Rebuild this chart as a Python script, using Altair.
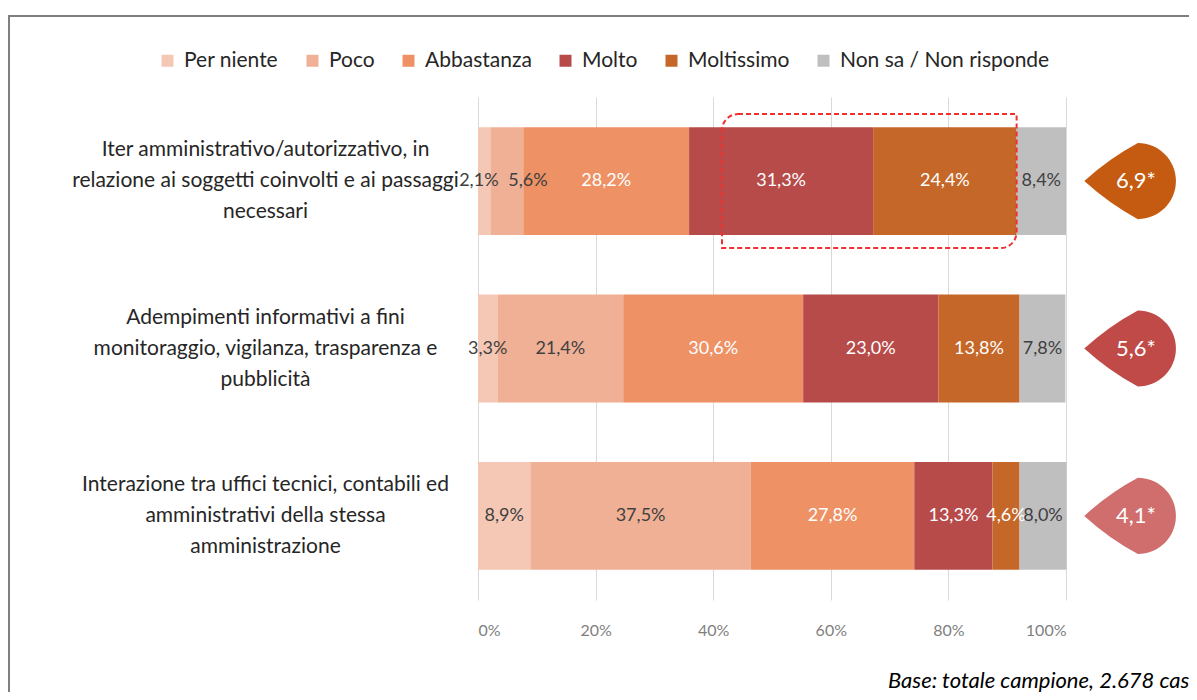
import altair as alt
import pandas as pd

# ---- data ----
categories = [
    "Iter amministrativo/autorizzativo, in|relazione ai soggetti coinvolti e ai passaggi|necessari",
    "Adempimenti informativi a fini|monitoraggio, vigilanza, trasparenza e|pubblicità",
    "Interazione tra uffici tecnici, contabili ed|amministrativi della stessa|amministrazione",
]
levels = ["Per niente", "Poco", "Abbastanza", "Molto", "Moltissimo", "Non sa / Non risponde"]
level_colors = ["#F5C8B6", "#F0B096", "#EE9164", "#B64B4A", "#C6672A", "#BFBFBF"]
row1 = [2.1, 5.6, 28.2, 31.3, 24.4, 8.4]
row2 = [3.3, 21.4, 30.6, 23.0, 13.8, 7.8]
row3 = [8.9, 37.5, 27.8, 13.3, 4.6, 8.0]
scores = [6.9, 5.6, 4.1]
score_colors = ["#C55A11", "#C04A48", "#D06E6E"]
highlight_start = 41.5
highlight_end = 91.6
note = "Base: totale campione, 2.678 casi"

rows = []
for cat, vals in zip(categories, [row1, row2, row3]):
    for i, (lev, v) in enumerate(zip(levels, vals)):
        rows.append({"category": cat, "level": lev, "order": i, "value": v})
df = pd.DataFrame(rows)

badges = pd.DataFrame({
    "category": categories,
    "score": scores,
    "col": score_colors,
    "label": [f"{s:.1f}".replace(".", ",") + "*" for s in scores],
    "pos": [110.9] * 3,
    "tpos": [111.9] * 3,
})
box = pd.DataFrame({"category": [categories[0]], "x0": [highlight_start], "x1": [highlight_end]})

FONT = "Lato"

x_scale = alt.Scale(domain=[0, 100], nice=False)
y_scale = alt.Scale(domain=categories, paddingInner=0.355, paddingOuter=0.18)

y_enc = alt.Y(
    "category:N",
    scale=y_scale,
    sort=categories,
    axis=alt.Axis(
        title=None, domain=False, ticks=False, grid=False,
        labelAlign="center", labelBaseline="middle", labelPadding=213,
        labelExpr="split(datum.label, '|')", labelLimit=0, labelOffset=-31,
        labelFontSize=21, labelLineHeight=31, labelColor="#262626", labelFont=FONT,
    ),
)

base = alt.Chart(df).transform_stack(
    stack="value", groupby=["category"], sort=[alt.SortField("order")], as_=["x0", "x1"]
).transform_calculate(
    mid="(datum.x0 + datum.x1) / 2 + (datum.level == 'Poco' && datum.value < 6 ? 3.6 : (datum.level == 'Per niente' && datum.value < 3 ? -0.9 : 0))",
    lab="replace(format(datum.value, '.1f'), '.', ',') + '%'",
)

bars = base.mark_bar().encode(
    x=alt.X(
        "x0:Q", scale=x_scale,
        axis=alt.Axis(
            title=None, values=[0, 20, 40, 60, 80, 100], labelExpr="datum.value + '%'",
            domain=False, ticks=False, grid=True, gridColor="#D9D9D9",
            labelColor="#7F7F7F", labelFontSize=16, labelPadding=22, labelFont=FONT,
        ),
    ),
    x2="x1:Q",
    y=y_enc,
    color=alt.Color(
        "level:N",
        scale=alt.Scale(domain=levels, range=level_colors),
        legend=alt.Legend(
            title=None, orient="none", direction="horizontal", legendX=-321, legendY=-47,
            symbolType="square", symbolSize=144, symbolStrokeWidth=0,
            labelFontSize=21, labelFont=FONT, labelColor="#262626", labelLimit=0,
            columnPadding=23, labelOffset=6,
        ),
    ),
)

labels = base.mark_text(font=FONT, fontSize=18, baseline="middle", align="center").encode(
    x=alt.X("mid:Q", scale=x_scale),
    y=alt.Y("category:N", scale=y_scale, sort=categories),
    text="lab:N",
    color=alt.condition(
        "indexof(['Abbastanza','Molto','Moltissimo'], datum.level) >= 0",
        alt.value("#FFFFFF"), alt.value("#404040"),
    ),
)

hbox = alt.Chart(box).mark_bar(
    height=134, fillOpacity=0, stroke="#F03030", strokeWidth=2, strokeDash=[5, 3],
    cornerRadiusTopLeft=16, cornerRadiusBottomRight=16,
).encode(
    x=alt.X("x0:Q", scale=x_scale), x2="x1:Q",
    y=alt.Y("category:N", scale=y_scale, sort=categories),
)

drop_path = "M -1 0 Q -0.45 -0.5 0.17 -0.83 A 0.83 0.83 0 1 1 0.17 0.83 Q -0.45 0.5 -1 0 Z"
drops = alt.Chart(badges).mark_point(shape=drop_path, size=8400, filled=True, opacity=1, strokeWidth=0).encode(
    x=alt.X("pos:Q", scale=x_scale),
    y=alt.Y("category:N", scale=y_scale, sort=categories),
    fill=alt.Fill("col:N", scale=None),
)
drop_text = alt.Chart(badges).mark_text(font=FONT, fontSize=22, color="#FFFFFF", baseline="middle").encode(
    x=alt.X("tpos:Q", scale=x_scale),
    y=alt.Y("category:N", scale=y_scale, sort=categories),
    text="label:N",
)

frame = alt.Chart(pd.DataFrame({"a": [0]})).mark_rect(
    fillOpacity=0, stroke="#7F7F7F", strokeWidth=2
).encode(
    x=alt.value(-469), x2=alt.value(760), y=alt.value(-81), y2=alt.value(640),
)

note_text = alt.Chart(pd.DataFrame({"t": [note]})).mark_text(
    font=FONT, fontSize=22, fontStyle="italic", align="left", baseline="middle", color="#000000"
).encode(
    x=alt.value(410), y=alt.value(584), text="t:N",
)

chart = alt.layer(frame, bars, labels, hbox, drops, drop_text, note_text).properties(
    width=588, height=503,
    autosize=alt.AutoSizeParams(type="none"),
    padding={"left": 470, "top": 89, "right": 123, "bottom": 92},
).configure_view(stroke=None)

chart.save("out.html", embed_options={"renderer": "svg", "actions": False})
